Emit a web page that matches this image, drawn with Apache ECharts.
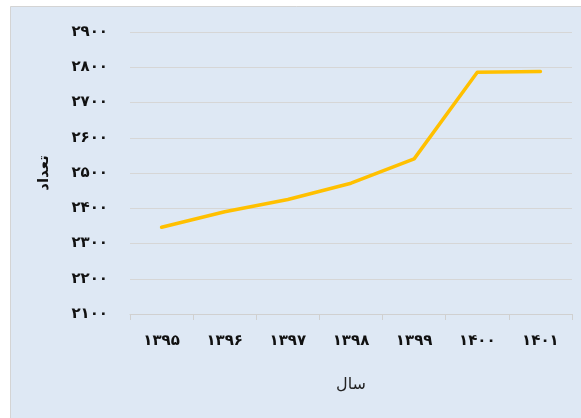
<!DOCTYPE html>
<html>
<head>
<meta charset="utf-8">
<script src="https://cdn.jsdelivr.net/npm/echarts@6/dist/echarts.min.js"></script>
<style>
  html, body { margin: 0; padding: 0; background: #ffffff; }
  #chart { width: 581px; height: 418px; }
</style>
</head>
<body>
<div id="chart"></div>
<script>
// Years (Solar Hijri) and counts per year
const years = ['۱۳۹۵', '۱۳۹۶', '۱۳۹۷', '۱۳۹۸', '۱۳۹۹', '۱۴۰۰', '۱۴۰۱'];
const counts = [2346, 2390, 2425, 2471, 2540, 2786, 2788];
const persianDigits = ['۰', '۱', '۲', '۳', '۴', '۵', '۶', '۷', '۸', '۹'];

function toPersian(n) {
  return String(n).replace(/[0-9]/g, d => persianDigits[+d]);
}

const chart = echarts.init(document.getElementById('chart'), null, { renderer: 'canvas' });
const font = '"DejaVu Sans", "Noto Sans", sans-serif';

chart.setOption({
  animation: false,
  backgroundColor: '#ffffff',
  graphic: [{
    type: 'rect',
    z: -10,
    shape: { x: 10.5, y: 6.5, width: 575, height: 420 },
    style: { fill: '#dee8f4', stroke: '#d4d4d4', lineWidth: 1 }
  }],
  grid: { left: 130, right: 9, top: 32, bottom: 104 },
  xAxis: {
    type: 'category',
    data: years,
    boundaryGap: true,
    name: 'سال',
    nameLocation: 'middle',
    nameGap: 63,
    nameTextStyle: { fontFamily: font, fontSize: 16, color: '#222', fontWeight: 'normal' },
    axisLine: { lineStyle: { color: '#d0d0d0', width: 1 } },
    axisTick: { show: true, length: 6, lineStyle: { color: '#d0d0d0' } },
    axisLabel: { margin: 20, fontFamily: font, fontSize: 15, fontWeight: 'bold', color: '#111' },
    splitLine: { show: false }
  },
  yAxis: {
    type: 'value',
    min: 2100,
    max: 2900,
    interval: 100,
    name: 'تعداد',
    nameLocation: 'middle',
    nameGap: 78,
    nameRotate: 90,
    nameTextStyle: { fontFamily: font, fontSize: 15, fontWeight: 'bold', color: '#111' },
    axisLine: { show: false },
    axisTick: { show: false },
    axisLabel: {
      margin: 22,
      fontFamily: font,
      fontSize: 15,
      fontWeight: 'bold',
      color: '#111',
      formatter: v => toPersian(v)
    },
    splitLine: { lineStyle: { color: '#d6d6d6', width: 1 } }
  },
  series: [{
    type: 'line',
    data: counts,
    symbol: 'none',
    lineStyle: { color: '#ffc000', width: 3.5, cap: 'round', join: 'round' },
    itemStyle: { color: '#ffc000' }
  }]
});
</script>
</body>
</html>
